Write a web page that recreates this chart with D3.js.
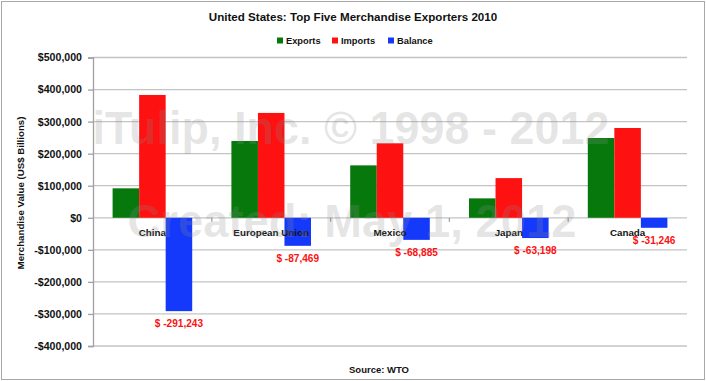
<!DOCTYPE html>
<html lang="en">

<head>
  <meta charset="UTF-8">
  <title>United States: Top Five Merchandise Exporters 2010</title>
  <script src="https://d3js.org/d3.v7.min.js"></script>
  <style>
    body {
      margin: 0;
      background: #fff;
    }

    svg text {
      font-family: "Liberation Sans", Arial, sans-serif;
      font-weight: bold;
    }

    .grid line {
      stroke: #c4c4c4;
      stroke-width: 1.3px;
    }
  </style>
</head>

<body>
  <div id="chart"></div>
  <script>
    const categories = ["China", "European Union", "Mexico", "Japan", "Canada"];
    const exportsVals = [91878, 239600, 163473, 60545, 248811];
    const importsVals = [383121, 327069, 232358, 123743, 280057];
    const balanceVals = [-291243, -87469, -68885, -63198, -31246];
    const seriesNames = ["Exports", "Imports", "Balance"];
    const seriesColors = ["#07790c", "#fd1111", "#1439fb"];
    const yTicks = [500000, 400000, 300000, 200000, 100000, 0, -100000, -200000, -300000, -400000];

    const width = 706, height = 381;
    const plot = { left: 93, right: 687, top: 57.5, bottom: 346 };

    const svg = d3.select("#chart").append("svg")
      .attr("width", width)
      .attr("height", height);

    // chart frame
    svg.append("rect")
      .attr("x", 1.5).attr("y", 1.5)
      .attr("width", width - 3).attr("height", height - 3)
      .attr("fill", "#fff")
      .attr("stroke", "#a8a8a8");

    const x = d3.scaleBand()
      .domain(categories)
      .range([plot.left, plot.right])
      .paddingInner(0.33)
      .paddingOuter(0.165);

    const xs = d3.scaleBand()
      .domain(seriesNames)
      .range([0, x.bandwidth()]);

    const y = d3.scaleLinear()
      .domain([-400000, 500000])
      .range([plot.bottom, plot.top]);

    // gridlines
    svg.append("g")
      .attr("class", "grid")
      .selectAll("line")
      .data(yTicks)
      .join("line")
      .attr("x1", plot.left)
      .attr("x2", plot.right)
      .attr("y1", d => y(d))
      .attr("y2", d => y(d));

    // y axis
    const fmt = d => (d < 0 ? "-$" : "$") + d3.format(",")(Math.abs(d));
    const yAxis = svg.append("g")
      .attr("transform", `translate(${plot.left},0)`)
      .call(d3.axisLeft(y).tickValues(yTicks).tickFormat(fmt).tickSize(5).tickPadding(6));
    yAxis.select(".domain").attr("stroke", "#a0a0a0").attr("stroke-width", 1.3);
    yAxis.selectAll(".tick line").attr("stroke", "#a0a0a0").attr("stroke-width", 1.3);
    yAxis.selectAll(".tick text")
      .attr("fill", "#111")
      .style("font-size", "10.6px")
      .style("font-family", "'Liberation Sans', Arial, sans-serif")
      .style("font-weight", "bold");

    // category ticks on the zero line
    svg.append("g")
      .selectAll("line")
      .data(d3.range(1, categories.length))
      .join("line")
      .attr("x1", i => plot.left + i * x.step())
      .attr("x2", i => plot.left + i * x.step())
      .attr("y1", y(0))
      .attr("y2", y(0) + 4)
      .attr("stroke", "#a0a0a0")
      .attr("stroke-width", 1.3);

    // bars
    const rows = categories.map((c, i) => ({
      cat: c,
      vals: [exportsVals[i], importsVals[i], balanceVals[i]]
    }));

    const groups = svg.append("g")
      .selectAll("g")
      .data(rows)
      .join("g")
      .attr("transform", d => `translate(${x(d.cat)},0)`);

    groups.selectAll("rect")
      .data(d => d.vals.map((v, j) => ({ name: seriesNames[j], v: v, color: seriesColors[j] })))
      .join("rect")
      .attr("x", d => xs(d.name))
      .attr("width", xs.bandwidth())
      .attr("y", d => y(Math.max(0, d.v)))
      .attr("height", d => Math.abs(y(d.v) - y(0)))
      .attr("fill", d => d.color);

    // category labels, drawn over the bars
    svg.append("g")
      .selectAll("text")
      .data(categories)
      .join("text")
      .attr("x", d => x(d) + x.bandwidth() / 2)
      .attr("y", 236)
      .attr("text-anchor", "middle")
      .attr("font-size", 9.8)
      .attr("fill", "#111")
      .text(d => d);

    // watermark
    const wm = svg.append("g")
      .attr("fill", "#8c8c8c")
      .attr("fill-opacity", 0.22)
      .attr("font-family", "'Liberation Sans', Arial, sans-serif")
      .attr("font-size", 47);
    wm.append("text")
      .attr("x", 351).attr("y", 144)
      .attr("text-anchor", "middle")
      .attr("textLength", 517)
      .attr("lengthAdjust", "spacingAndGlyphs")
      .text("iTulip, Inc. © 1998 - 2012");
    wm.append("text")
      .attr("x", 352).attr("y", 237)
      .attr("text-anchor", "middle")
      .attr("textLength", 449)
      .attr("lengthAdjust", "spacingAndGlyphs")
      .text("Created: May 1, 2012");

    // balance labels
    svg.append("g")
      .selectAll("text")
      .data(rows)
      .join("text")
      .attr("x", d => x(d.cat) + xs("Balance") + xs.bandwidth() / 2)
      .attr("y", d => y(d.vals[2]) + 16)
      .attr("text-anchor", "middle")
      .attr("font-size", 10.1)
      .attr("fill", "#fd1111")
      .text(d => "$ " + d3.format(",")(d.vals[2]).replace("−", "-"));

    // title
    svg.append("text")
      .attr("x", 353).attr("y", 21)
      .attr("text-anchor", "middle")
      .attr("font-size", 11.6)
      .attr("fill", "#111")
      .text("United States: Top Five Merchandise Exporters 2010");

    // legend
    const legendX = [277, 332, 388];
    const legend = svg.append("g")
      .selectAll("g")
      .data(seriesNames)
      .join("g")
      .attr("transform", (d, i) => `translate(${legendX[i]},0)`);
    legend.append("rect")
      .attr("y", 37.5)
      .attr("width", 6).attr("height", 6)
      .attr("fill", (d, i) => seriesColors[i]);
    legend.append("text")
      .attr("x", 9).attr("y", 44)
      .attr("font-size", 9.3)
      .attr("fill", "#111")
      .text(d => d);

    // y axis title
    svg.append("text")
      .attr("transform", "translate(24,193) rotate(-90)")
      .attr("text-anchor", "middle")
      .attr("font-size", 9.7)
      .attr("fill", "#111")
      .text("Merchandise Value (US$ Billions)");

    // source
    svg.append("text")
      .attr("x", 379).attr("y", 373)
      .attr("text-anchor", "middle")
      .attr("font-size", 9.5)
      .attr("fill", "#111")
      .text("Source: WTO");
  </script>
</body>

</html>
